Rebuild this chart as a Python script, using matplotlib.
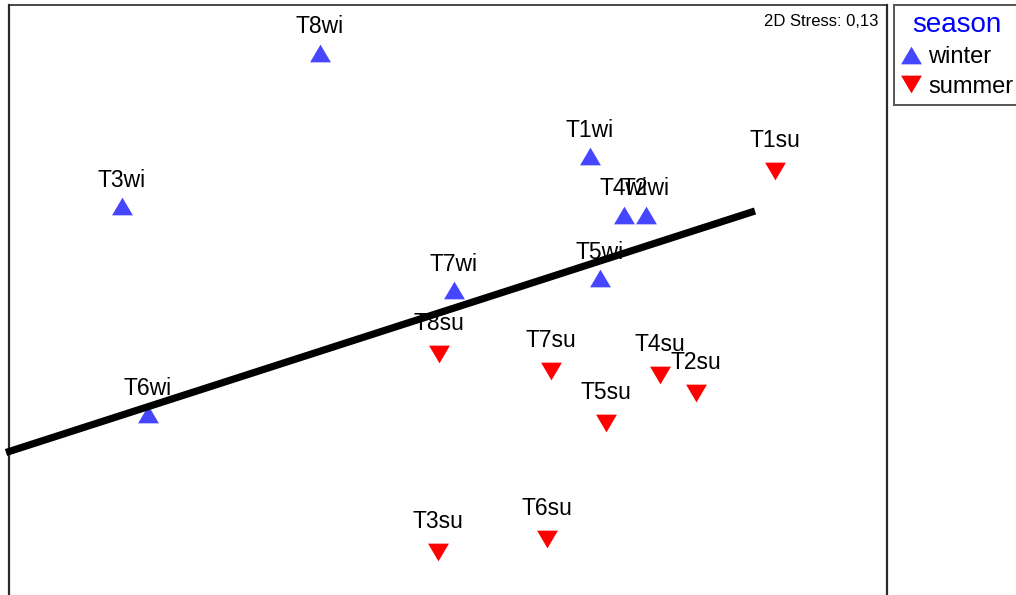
import matplotlib.pyplot as plt
from matplotlib.lines import Line2D

plt.rcParams['font.family'] = ['Liberation Sans', 'DejaVu Sans']

# nMDS ordination of sampling sites (plot units)
winter_names = ['T8wi', 'T3wi', 'T1wi', 'T4wi', 'T2wi', 'T5wi', 'T7wi', 'T6wi']
winter_x = [320, 122, 590, 623.5, 646, 599.5, 454, 148]
winter_y = [542.5, 389, 439, 380.5, 380.5, 317, 305, 181]

summer_names = ['T1su', 'T8su', 'T7su', 'T4su', 'T2su', 'T5su', 'T3su', 'T6su']
summer_x = [775, 438.5, 551, 659.5, 695.5, 606, 437.5, 547]
summer_y = [424, 241, 224, 220.5, 202.5, 172, 43.5, 56]

# trend line end points
trend_x = [6, 755]
trend_y = [142.5, 384]

stress_text = '2D Stress: 0,13'

up_tri = [(-1, -0.85), (1, -0.85), (0, 0.85), (-1, -0.85)]
down_tri = [(-1, 0.85), (1, 0.85), (0, -0.85), (-1, 0.85)]
blue = '#4646ff'
red = '#ff0000'

W, H = 1016, 595
fig = plt.figure(figsize=(W / 100, H / 100), dpi=100)
ax = fig.add_axes([8.5 / W, -30 / H, (887 - 8.5) / W, 620 / H])
ax.set_xlim(8.5, 887)
ax.set_ylim(-30, 590)
ax.set_xticks([])
ax.set_yticks([])
for s in ax.spines.values():
    s.set_color('#2a2a2a')
    s.set_linewidth(1.6)
ax.spines['top'].set_linewidth(1.2)

ax.plot(winter_x, winter_y, linestyle='none', marker=up_tri, ms=15,
        color=blue, mec='none', zorder=3)
ax.plot(summer_x, summer_y, linestyle='none', marker=down_tri, ms=15,
        color=red, mec='none', zorder=3)

for n, x, y in zip(winter_names, winter_x, winter_y):
    ax.annotate(n, (x, y), xytext=(0, 14), textcoords='offset points',
                ha='center', va='baseline', fontsize=16.5, zorder=2)
for n, x, y in zip(summer_names, summer_x, summer_y):
    ax.annotate(n, (x, y), xytext=(0, 17), textcoords='offset points',
                ha='center', va='baseline', fontsize=16.5, zorder=2)

ax.plot(trend_x, trend_y, color='black', lw=5.2, solid_capstyle='butt',
        clip_on=False, zorder=4)

ax.text(878, 573, stress_text, ha='right', va='center', fontsize=12)

handles = [
    Line2D([], [], linestyle='none', marker=up_tri, ms=15, color=blue, mec='none'),
    Line2D([], [], linestyle='none', marker=down_tri, ms=15, color=red, mec='none'),
]
leg = fig.legend(handles, ['winter', 'summer'], title='season',
                 loc='upper left', bbox_to_anchor=(894 / W, 1 - 5 / H),
                 fontsize=17, title_fontsize=20, frameon=True, fancybox=False,
                 borderpad=0.3, handletextpad=0.3, handlelength=0.85,
                 labelspacing=0.33, borderaxespad=0)
leg.get_title().set_color('#0000ff')
leg.get_frame().set_edgecolor('#2a2a2a')
leg.get_frame().set_linewidth(1.4)

fig.savefig('out.png', dpi=100)
